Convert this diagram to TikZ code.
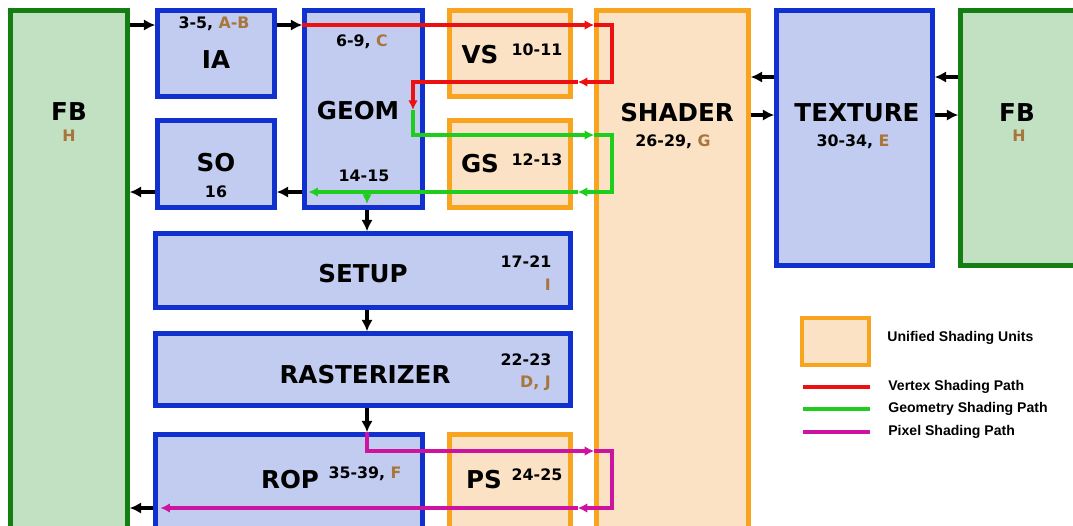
\documentclass[tikz,border=0pt]{standalone}
\usepackage{fontspec}
\setmainfont{DejaVu Sans}
\newfontfamily\legendfont{Liberation Sans}
\usetikzlibrary{arrows.meta}

\definecolor{boxblue}{RGB}{193,204,240}
\definecolor{lineblue}{RGB}{16,48,208}
\definecolor{boxgreen}{RGB}{194,224,194}
\definecolor{linegreen}{RGB}{20,125,20}
\definecolor{boxorange}{RGB}{252,226,196}
\definecolor{lineorange}{RGB}{248,164,30}
\definecolor{brn}{RGB}{168,118,60}
\definecolor{vred}{RGB}{236,16,16}
\definecolor{ggreen}{RGB}{30,205,30}
\definecolor{pmag}{RGB}{204,20,160}

\tikzset{
    unit/.style={draw=lineblue, fill=boxblue, line width=2.5pt, inner sep=0pt},
    fbuf/.style={draw=linegreen, fill=boxgreen, line width=2.5pt, inner sep=0pt},
    shd/.style={draw=lineorange, fill=boxorange, line width=2.5pt, inner sep=0pt},
    big/.style={font=\fontsize{14}{15}\selectfont\bfseries, inner sep=0pt},
    num/.style={font=\fontsize{9}{10}\selectfont\bfseries, inner sep=0pt},
    key/.style={font=\legendfont\fontsize{8}{9}\selectfont\bfseries, inner sep=0pt, anchor=west},
    blk/.style={line width=1.8pt, -{Latex[length=6.5pt,width=6.5pt]}},
    vpath/.style={draw=vred, line width=1.8pt},
    gpath/.style={draw=ggreen, line width=1.8pt},
    ppath/.style={draw=pmag, line width=1.8pt},
    tip/.style={-{Latex[length=5.5pt,width=5.5pt]}},
}

\begin{document}
\begin{tikzpicture}[x=0.02cm, y=-0.02cm]
    \useasboundingbox (0,0) rectangle (1073,525);
    \clip (0,0) rectangle (1073,525);

    % units
    \node[fbuf, minimum width=2.34cm, minimum height=10.64cm] (fbL) at (69,276.5) {};
    \node[unit, minimum width=2.34cm, minimum height=1.72cm] (ia) at (216,53.5) {};
    \node[unit, minimum width=2.34cm, minimum height=1.74cm] (so) at (216,164) {};
    \node[unit, minimum width=2.36cm, minimum height=3.94cm] (geom) at (363.5,109) {};
    \node[shd, minimum width=2.42cm, minimum height=1.72cm] (vs) at (510,53.5) {};
    \node[shd, minimum width=2.42cm, minimum height=1.74cm] (gs) at (510,164) {};
    \node[shd, minimum width=3.04cm, minimum height=10.64cm] (shader) at (672.5,276.5) {};
    \node[unit, minimum width=3.12cm, minimum height=5.10cm] (tex) at (854.5,138) {};
    \node[fbuf, minimum width=2.54cm, minimum height=5.10cm] (fbR) at (1024,138) {};
    \node[unit, minimum width=8.30cm, minimum height=1.48cm] (setup) at (363,270.5) {};
    \node[unit, minimum width=8.30cm, minimum height=1.44cm] (rast) at (363,369.5) {};
    \node[unit, minimum width=5.34cm, minimum height=2.16cm] (rop) at (289,488.5) {};
    \node[shd, minimum width=2.42cm, minimum height=2.16cm] (ps) at (510,488.5) {};

    % labels
    \node[big] (fbL-t) at (69,112) {FB};
    \node[num, text=brn] (fbL-h) at (69,136) {H};
    \node[num] (ia-n) at (214,24) {3-5, {\color{brn}A-B}};
    \node[big] (ia-t) at (216,60) {IA};
    \node[big] (so-t) at (216,163) {SO};
    \node[num] (so-n) at (216,192) {16};
    \node[num] (geom-n) at (362,42) {6-9, {\color{brn}C}};
    \node[big] (geom-t) at (358,111) {GEOM};
    \node[num] (geom-m) at (364,176) {14-15};
    \node[big] (vs-t) at (480,55) {VS};
    \node[num] (vs-n) at (537,50) {10-11};
    \node[big] (gs-t) at (480,164) {GS};
    \node[num] (gs-n) at (537,160) {12-13};
    \node[big] (shader-t) at (677,113) {SHADER};
    \node[num] (shader-n) at (673,142) {26-29, {\color{brn}G}};
    \node[big] (tex-t) at (857,113) {TEXTURE};
    \node[num] (tex-n) at (853,142) {30-34, {\color{brn}E}};
    \node[big] (fbR-t) at (1017,113) {FB};
    \node[num, text=brn] (fbR-h) at (1019,136) {H};
    \node[big] (setup-t) at (363,274) {SETUP};
    \node[num] (setup-n) at (526,262) {17-21};
    \node[num, text=brn, anchor=east] (setup-l) at (551,285) {I};
    \node[big] (rast-t) at (365,375) {RASTERIZER};
    \node[num] (rast-n) at (526,360) {22-23};
    \node[num, text=brn, anchor=east] (rast-l) at (551,383) {D, J};
    \node[big] (rop-t) at (290,480) {ROP};
    \node[num] (rop-n) at (365,474) {35-39, {\color{brn}F}};
    \node[big] (ps-t) at (484,480) {PS};
    \node[num] (ps-n) at (537,475) {24-25};

    % rows and columns of the paths
    \coordinate (rx) at (612,0);
    \coordinate (gx) at (413,0);
    \coordinate (cx) at (367,0);
    \coordinate (ya) at (0,25);
    \coordinate (yv) at (0,82);
    \coordinate (yd) at (0,110);
    \coordinate (yg) at (0,135);
    \coordinate (yo) at (0,192);
    \coordinate (yt1) at (0,77);
    \coordinate (yt2) at (0,115);
    \coordinate (yp) at (0,451);
    \coordinate (yr) at (0,508);
    \coordinate (gdn) at (367,204);
    \coordinate (back) at ([xshift=0.1cm]vs.east);
    \coordinate (gin) at ([xshift=0.12cm]geom.west);
    \coordinate (rin) at ([xshift=0.14cm]rop.west);

    % data flow
    \draw[blk] (fbL.east |- ya) -- (ia.west |- ya);
    \draw[blk] (ia.east |- ya) -- (geom.west |- ya);
    \draw[blk] (geom.west |- yo) -- (so.east |- yo);
    \draw[blk] (so.west |- yo) -- (fbL.east |- yo);
    \draw[blk] (cx |- geom.south) -- (cx |- setup.north);
    \draw[blk] (cx |- setup.south) -- (cx |- rast.north);
    \draw[blk] (cx |- rast.south) -- (cx |- rop.north);
    \draw[blk] (rop.west |- yr) -- (fbL.east |- yr);
    \draw[blk] (tex.west |- yt1) -- (shader.east |- yt1);
    \draw[blk] (shader.east |- yt2) -- (tex.west |- yt2);
    \draw[blk] (fbR.west |- yt1) -- (tex.east |- yt1);
    \draw[blk] (tex.east |- yt2) -- (fbR.west |- yt2);

    % geometry shading path
    \draw[gpath, tip] (gx |- yd) -- (gx |- yg) -- (shader.west |- yg);
    \draw[gpath] (shader.west |- yg) -- (rx |- yg) -- (rx |- yo) -- (shader.west |- yo);
    \draw[gpath, tip] (shader.west |- yo) -- (back |- yo);
    \draw[gpath, tip] (back |- yo) -- (gin |- yo);
    \draw[gpath, tip] (cx |- yo) -- (gdn);

    % vertex shading path
    \draw[vpath, tip] (geom.west |- ya) -- (shader.west |- ya);
    \draw[vpath] (shader.west |- ya) -- (rx |- ya) -- (rx |- yv) -- (shader.west |- yv);
    \draw[vpath, tip] (shader.west |- yv) -- (back |- yv);
    \draw[vpath, tip] (back |- yv) -- (gx |- yv) -- (gx |- yd);

    % pixel shading path
    \draw[ppath, tip] (cx |- rop.north) -- (cx |- yp) -- (shader.west |- yp);
    \draw[ppath] (shader.west |- yp) -- (rx |- yp) -- (rx |- yr) -- (shader.west |- yr);
    \draw[ppath, tip] (shader.west |- yr) -- (back |- yr);
    \draw[ppath, tip] (back |- yr) -- (rin |- yr);

    % legend
    \node[shd, line width=2.2pt, minimum width=1.34cm, minimum height=0.94cm] (keybox) at (835.5,341.5) {};
    \node[key] (key-u) at (887,338) {Unified Shading Units};
    \coordinate (kv1) at (803,387);
    \coordinate (kv2) at (870,387);
    \coordinate (kg1) at (803,409);
    \coordinate (kg2) at (870,409);
    \coordinate (kp1) at (803,432);
    \coordinate (kp2) at (870,432);
    \draw[vpath] (kv1) -- (kv2);
    \draw[gpath] (kg1) -- (kg2);
    \draw[ppath] (kp1) -- (kp2);
    \node[key] (key-v) at (888,387) {Vertex Shading Path};
    \node[key] (key-g) at (888,409) {Geometry Shading Path};
    \node[key] (key-p) at (888,432) {Pixel Shading Path};
\end{tikzpicture}
\end{document}
